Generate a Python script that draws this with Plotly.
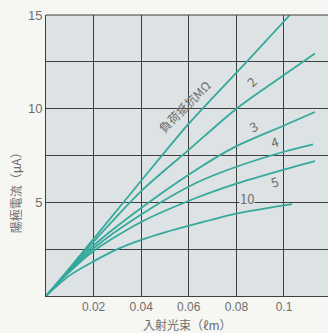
import plotly.graph_objects as go

# ---- data ----
x_A = [0, 0.01, 0.02, 0.04, 0.06, 0.0843, 0.1025]
y_A = [0, 1.5, 3.05, 6.15, 9.2, 12.5, 15.0]

x_2 = [0, 0.01, 0.02, 0.04, 0.06, 0.08, 0.10, 0.113]
y_2 = [0, 1.45, 2.9, 5.6, 7.8, 10.0, 11.8, 12.95]

x_3 = [0, 0.01, 0.02, 0.04, 0.063, 0.08, 0.10, 0.113]
y_3 = [0, 1.4, 2.7, 4.7, 6.73, 8.0, 9.1, 9.82]

x_4 = [0, 0.01, 0.02, 0.04, 0.063, 0.08, 0.10, 0.1122]
y_4 = [0, 1.35, 2.55, 4.35, 6.03, 6.9, 7.7, 8.1]

x_5 = [0, 0.01, 0.02, 0.04, 0.063, 0.08, 0.10, 0.113]
y_5 = [0, 1.3, 2.4, 3.95, 5.23, 6.0, 6.75, 7.2]

x_10 = [0, 0.01, 0.02, 0.03, 0.04, 0.05, 0.063, 0.08, 0.1034]
y_10 = [0, 1.1, 1.85, 2.5, 3.0, 3.4, 3.85, 4.4, 4.91]

series = [(x_A, y_A), (x_2, y_2), (x_3, y_3), (x_4, y_4), (x_5, y_5), (x_10, y_10)]

curve_labels = ["負荷抵抗MΩ", "2", "3", "4", "5", "10"]
label_x = [0.058, 0.0864, 0.0871, 0.0962, 0.0962, 0.0843]
label_y = [10.1, 11.44, 9.04, 8.24, 6.1, 5.21]
label_angle = [-45, -45, -30, -18, -18, 0]

x_tickvals = [0, 0.02, 0.04, 0.06, 0.08, 0.10]
x_ticktext = ["", "0.02", "0.04", "0.06", "0.08", "0.1"]
y_tickvals = [0, 2.5, 5, 7.5, 10, 12.5, 15]
y_ticktext = ["", "", "5", "", "10", "", "15"]

x_title = "入射光束（ℓm）"
y_title = "陽極電流（μA）"

TEAL = "#35a99b"
GRID = "#3f3f3f"
TXT = "#6e6e6e"
PLOT_BG = "#dde2e4"
PAPER_BG = "#f6f6f3"
FONT = "Noto Sans CJK JP"

fig = go.Figure()
for xs, ys in series:
    fig.add_trace(go.Scatter(x=xs, y=ys, mode="lines",
                             line=dict(color=TEAL, width=1.8, shape="spline", smoothing=0.8),
                             hoverinfo="skip", showlegend=False))

for t, x, y, a in zip(curve_labels, label_x, label_y, label_angle):
    fig.add_annotation(x=x, y=y, text=t, showarrow=False, textangle=a,
                       font=dict(family=FONT, size=12 if len(t) > 2 else 13, color=TXT),
                       bgcolor=PLOT_BG if t == "10" else None, borderpad=0)

fig.add_annotation(xref="paper", yref="paper", x=0.5, y=-0.1, text=x_title,
                   showarrow=False, xanchor="center", yanchor="middle",
                   font=dict(family=FONT, size=12, color=TXT))
fig.add_annotation(xref="paper", yref="paper", x=-0.11, y=0.38, text=y_title,
                   showarrow=False, textangle=-90, xanchor="center", yanchor="middle",
                   font=dict(family=FONT, size=12, color=TXT))

fig.update_xaxes(range=[0, 0.1185], tickvals=x_tickvals, ticktext=x_ticktext,
                 showgrid=True, gridcolor=GRID, gridwidth=1, zeroline=False,
                 showline=True, linecolor=GRID, linewidth=1, ticks="",
                 ticklabelstandoff=0,
                 tickfont=dict(family="Liberation Sans", size=12, color=TXT))
fig.update_yaxes(range=[0, 15], tickvals=y_tickvals, ticktext=y_ticktext,
                 showgrid=True, gridcolor=GRID, gridwidth=1, zeroline=False,
                 showline=True, linecolor=GRID, linewidth=1, ticks="",
                 mirror=False,
                 tickfont=dict(family="Liberation Sans", size=13, color=TXT))

fig.add_shape(type="line", xref="paper", yref="paper", x0=0, x1=1, y0=1, y1=1,
              line=dict(color=GRID, width=1))

fig.update_layout(width=328, height=333, margin=dict(l=46, r=0, t=15, b=37),
                  plot_bgcolor=PLOT_BG, paper_bgcolor=PAPER_BG, showlegend=False)

fig.write_html("out.html")
